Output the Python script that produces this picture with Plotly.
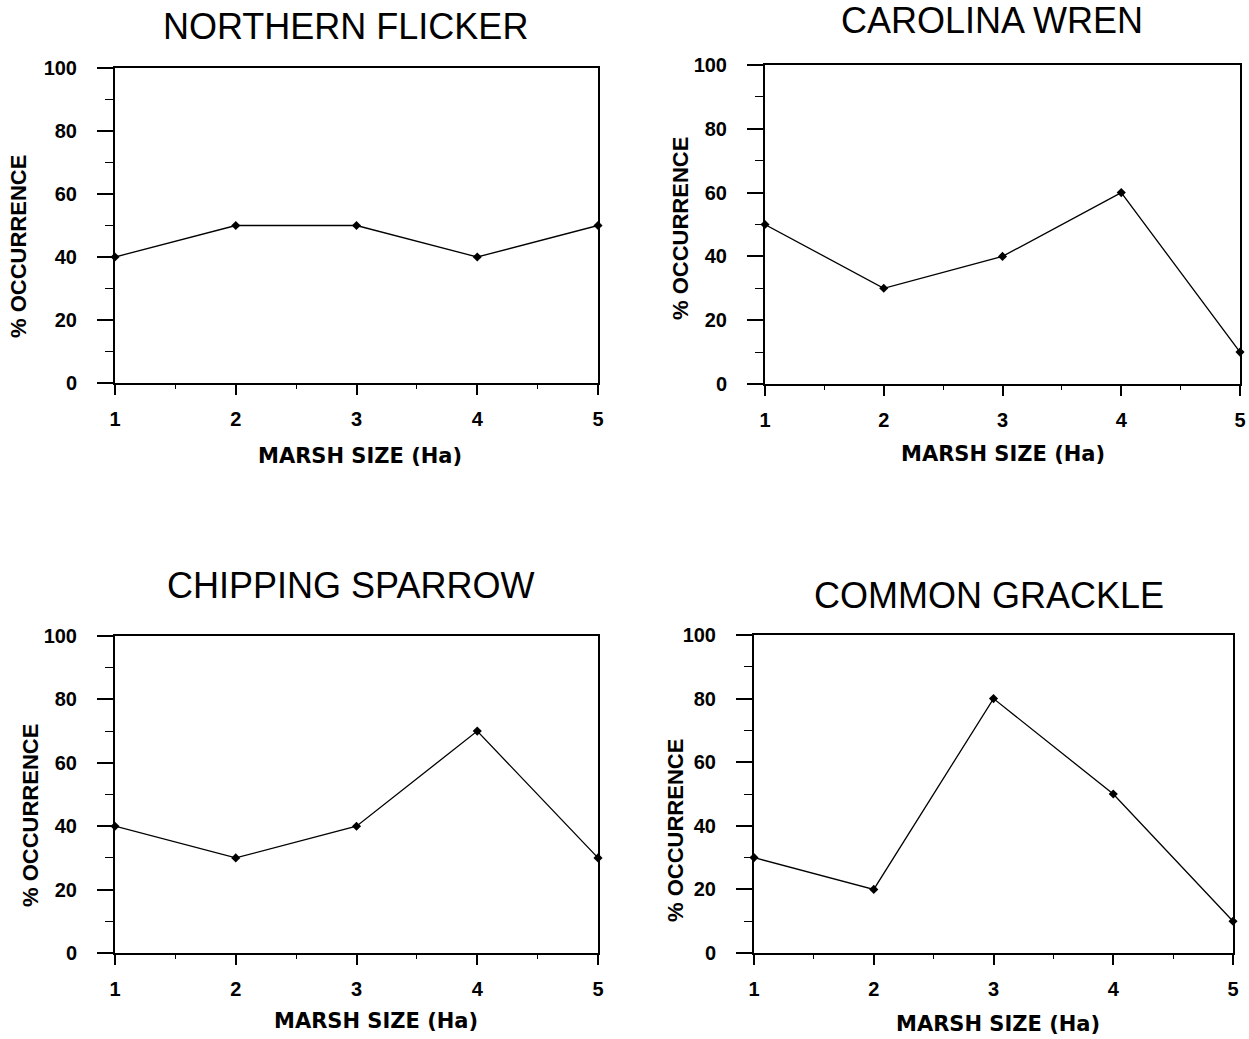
import plotly.graph_objects as go

W, H = 1249, 1039

marsh_size = [1, 2, 3, 4, 5]
species = ["NORTHERN FLICKER", "CAROLINA WREN", "CHIPPING SPARROW", "COMMON GRACKLE"]
northern_flicker = [40, 50, 50, 40, 50]
carolina_wren = [50, 30, 40, 60, 10]
chipping_sparrow = [40, 30, 40, 70, 30]
common_grackle = [30, 20, 80, 50, 10]
series = [northern_flicker, carolina_wren, chipping_sparrow, common_grackle]
y_ticks = [0, 20, 40, 60, 80, 100]
x_title = "MARSH SIZE (Ha)"
y_title = "% OCCURRENCE"

# panel geometry in pixels: (x_left, x_right, y_top, y_bottom)
panels = [
    (115, 598, 68, 383),
    (765, 1240, 65, 384),
    (115, 598, 636, 953),
    (754, 1233, 635, 953),
]
# title centers, y-title centers, x-title centers (pixels)
title_pos = [(345, 26), (992, 20), (350, 585), (989, 595)]
ytitle_pos = [(18, 247), (681, 228), (30, 816), (675, 831)]
xtitle_pos = [(360, 456), (1003, 454), (376, 1021), (998, 1024)]

def px(x):
    return x / W

def py(y):
    return 1 - y / H

fig = go.Figure()
layout = dict(
    width=W, height=H,
    margin=dict(l=0, r=0, t=0, b=0, pad=0, autoexpand=False),
    paper_bgcolor="white", plot_bgcolor="white",
    showlegend=False,
    annotations=[],
)

tick_font = dict(family="Liberation Sans, Arial, sans-serif", size=20, color="black", weight="bold")

for i, (vals, name) in enumerate(zip(series, species)):
    n = "" if i == 0 else str(i + 1)
    xl, xr, yt, yb = panels[i]
    fig.add_trace(go.Scatter(
        x=marsh_size, y=vals, mode="lines+markers",
        line=dict(color="black", width=1.3),
        marker=dict(symbol="diamond", size=7, color="black"),
        cliponaxis=False,
        xaxis="x" + n, yaxis="y" + n, name=name,
    ))
    layout["xaxis" + n] = dict(
        domain=[px(xl), px(xr)], anchor="y" + n, automargin=False,
        range=[1, 5], tickvals=marsh_size,
        showgrid=False, zeroline=False,
        showline=True, linecolor="black", linewidth=2, mirror=True,
        ticks="outside", ticklen=10, tickwidth=1.5, tickcolor="black",
        minor=dict(dtick=0.5, tick0=1, ticks="outside", ticklen=4, tickwidth=1.2, tickcolor="black"),
        tickfont=tick_font, ticklabelstandoff=7,
    )
    layout["yaxis" + n] = dict(
        domain=[py(yb), py(yt)], anchor="x" + n, automargin=False,
        range=[0, 100], tickvals=y_ticks,
        showgrid=False, zeroline=False,
        showline=True, linecolor="black", linewidth=2, mirror=True,
        ticks="outside", ticklen=16, tickwidth=1.5, tickcolor="black",
        minor=dict(dtick=10, tick0=0, ticks="outside", ticklen=8, tickwidth=1.2, tickcolor="black"),
        tickfont=tick_font, ticklabelstandoff=16,
    )
    tx, ty = title_pos[i]
    layout["annotations"].append(dict(
        text=name, x=px(tx), y=py(ty), xref="paper", yref="paper",
        xanchor="center", yanchor="middle", showarrow=False,
        font=dict(family="Liberation Sans, Arial, sans-serif", size=36, color="black"),
    ))
    ax, ay = xtitle_pos[i]
    layout["annotations"].append(dict(
        text=x_title, x=px(ax), y=py(ay), xref="paper", yref="paper",
        xanchor="center", yanchor="middle", showarrow=False,
        font=dict(family="DejaVu Sans, sans-serif", size=21, color="black", weight="bold"),
    ))
    bx, by = ytitle_pos[i]
    layout["annotations"].append(dict(
        text=y_title, x=px(bx), y=py(by), xref="paper", yref="paper",
        xanchor="center", yanchor="middle", showarrow=False, textangle=-90,
        font=dict(family="Liberation Sans, Arial, sans-serif", size=22, color="black", weight="bold"),
    ))

fig.update_layout(**layout)
fig.write_html("out.html")
